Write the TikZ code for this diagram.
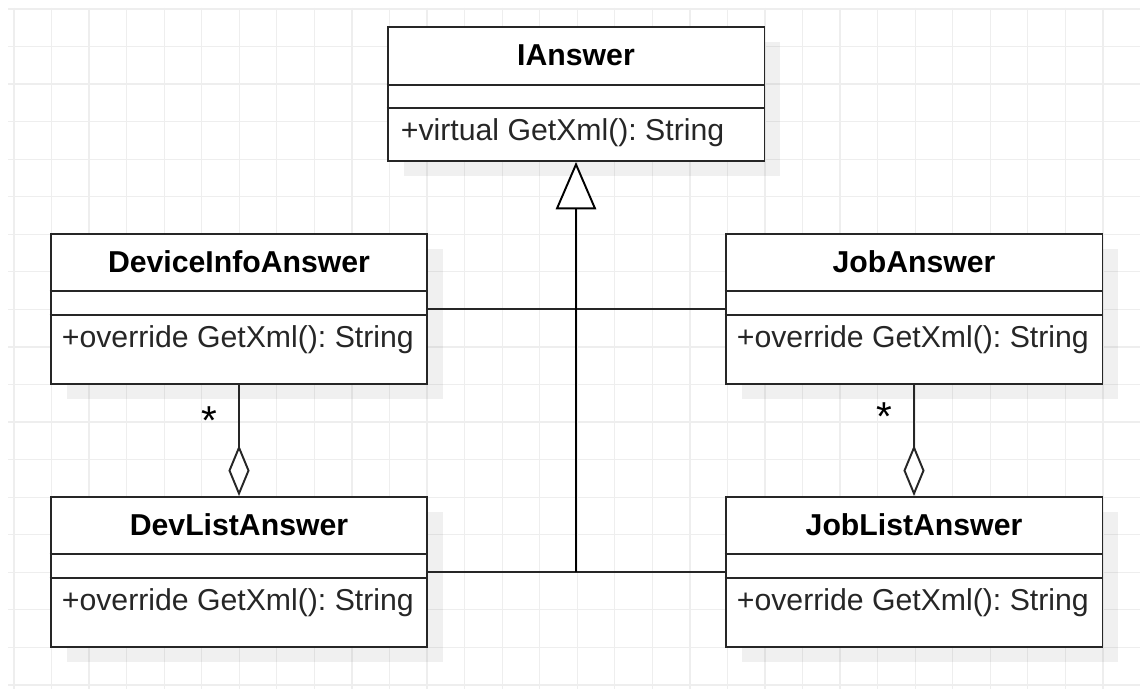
\documentclass[tikz,border=0pt]{standalone}
\usepackage{fontspec}
\setmainfont{Liberation Sans}
\usetikzlibrary{positioning, calc, arrows.meta, shadows}
\definecolor{boxline}{HTML}{262626}
\definecolor{gridgray}{HTML}{EEEEEE}
\frenchspacing
\tikzset{
  classbox/.style = {draw=boxline, fill=white, line width=1.1pt, minimum width=7.54cm, minimum height=3cm, inner sep=0pt,
    drop shadow={shadow xshift=0.32cm, shadow yshift=-0.3cm, fill=black, opacity=0.06}},
  classname/.style = {font=\fontsize{17.2}{20}\selectfont\bfseries, inner sep=0pt},
  member/.style = {font=\fontsize{17.2}{20}\selectfont, text=boxline, inner sep=0pt, anchor=west},
  divider/.style = {draw=boxline, line width=1.1pt},
  mult/.style = {font=\fontsize{23}{26}\selectfont, inner sep=0pt},
  inherit/.style = {-{Triangle[width=23pt, length=27pt, fill=white, line width=1.1pt]}, line width=1.7pt},
  realize/.style = {draw=boxline, line width=1.1pt},
  aggr/.style = {-{Diamond[width=12pt, length=29pt, fill=white, line width=1.1pt]}, draw=boxline, line width=1.1pt}
}

\begin{document}
\begin{tikzpicture}[x=0.02cm, y=-0.02cm]

    \useasboundingbox (0,0) rectangle (1140,689);
    \fill[white] (0,0) rectangle (1140,689);
    \foreach \i in {0,...,29}
      \draw[gridgray, line width=0.7pt] (14+\i*37.55,8) -- (14+\i*37.55,689);
    \foreach \j in {0,...,18}
      \draw[gridgray, line width=0.7pt] (8,9+\j*37.55) -- (1140,9+\j*37.55);

    \node[classbox, minimum height=2.68cm] (ians) at (576,94) {};
    \node[classbox] (dev) at (239,309) {};
    \node[classbox] (job) at (914,309) {};
    \node[classbox] (devl) at (239,572) {};
    \node[classbox] (jobl) at (914,572) {};

    \draw[divider] ($(ians.north west)+(0,59)$) -- ($(ians.north east)+(0,59)$);
    \draw[divider] ($(ians.north west)+(0,82)$) -- ($(ians.north east)+(0,82)$);
    \draw[divider] ($(dev.north west)+(0,58)$) -- ($(dev.north east)+(0,58)$);
    \draw[divider] ($(dev.north west)+(0,82)$) -- ($(dev.north east)+(0,82)$);
    \draw[divider] ($(job.north west)+(0,58)$) -- ($(job.north east)+(0,58)$);
    \draw[divider] ($(job.north west)+(0,82)$) -- ($(job.north east)+(0,82)$);
    \draw[divider] ($(devl.north west)+(0,58)$) -- ($(devl.north east)+(0,58)$);
    \draw[divider] ($(devl.north west)+(0,82)$) -- ($(devl.north east)+(0,82)$);
    \draw[divider] ($(jobl.north west)+(0,58)$) -- ($(jobl.north east)+(0,58)$);
    \draw[divider] ($(jobl.north west)+(0,82)$) -- ($(jobl.north east)+(0,82)$);

    \node[classname] (ians-name) at ($(ians.north)+(0,29.5)$) {IAnswer};
    \node[member] (ians-op) at ($(ians.north west)+(14,107)$) {+virtual GetXml(): String};

    \node[classname] (dev-name) at ($(dev.north)+(0,29)$) {DeviceInfoAnswer};
    \node[member] (dev-op) at ($(dev.north west)+(12,107)$) {+override GetXml(): String};

    \node[classname] (job-name) at ($(job.north)+(0,29)$) {JobAnswer};
    \node[member] (job-op) at ($(job.north west)+(12,107)$) {+override GetXml(): String};

    \node[classname] (devl-name) at ($(devl.north)+(0,29)$) {DevListAnswer};
    \node[member] (devl-op) at ($(devl.north west)+(12,107)$) {+override GetXml(): String};

    \node[classname] (jobl-name) at ($(jobl.north)+(0,29)$) {JobListAnswer};
    \node[member] (jobl-op) at ($(jobl.north west)+(12,107)$) {+override GetXml(): String};

    \coordinate (jtop) at (ians.south |- dev.east);
    \coordinate (jbot) at (ians.south |- devl.east);

    \draw[realize] (dev.east) -- (job.west);
    \draw[realize] (devl.east) -- (jobl.west);
    \draw[inherit] (jbot) -- (ians.south);

    \draw[aggr] (dev.south) -- (devl.north);
    \draw[aggr] (job.south) -- (jobl.north);

    \node[mult] (dev-mult) at ($(dev.south)+(-30,36)$) {*};
    \node[mult] (job-mult) at ($(job.south)+(-30,32)$) {*};

  \end{tikzpicture}
\end{document}
